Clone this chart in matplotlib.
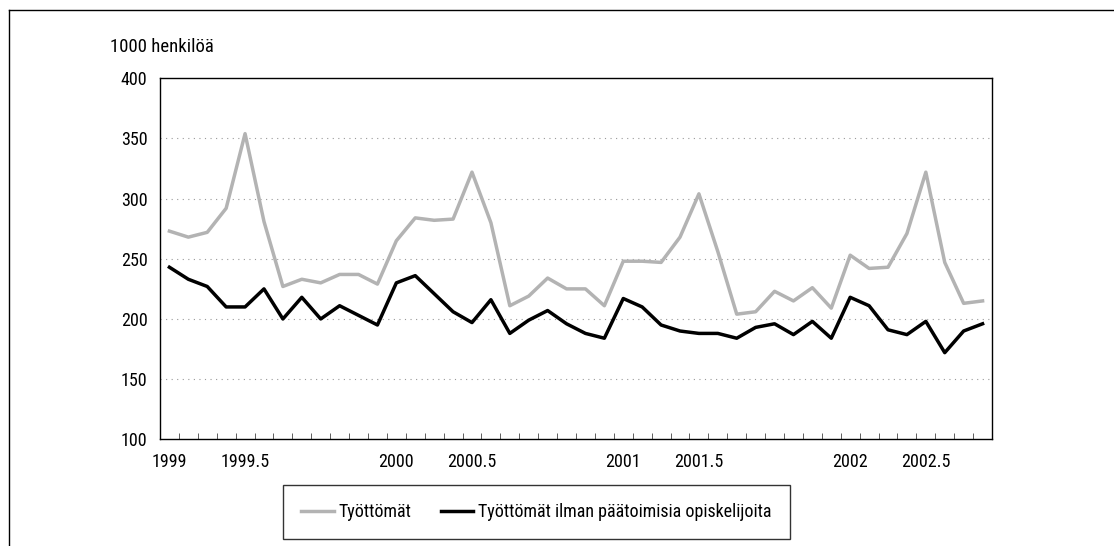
import matplotlib.pyplot as plt
from matplotlib import font_manager
from matplotlib.lines import Line2D
import numpy as np

# kapea fontti, jos sellainen löytyy
fonts = font_manager.fontManager.ttflist
names = {f.name for f in fonts}
family, stretch = "DejaVu Sans", "normal"
for cand in ["Liberation Sans Narrow", "Roboto Condensed", "Open Sans Condensed",
             "Noto Sans Condensed", "Inter Condensed"]:
    if cand in names:
        family = cand
        break
else:
    for f in fonts:
        if f.name in ("DejaVu Sans", "Noto Sans", "Open Sans", "Roboto") and \
                "condensed" in str(f.stretch).lower():
            family, stretch = f.name, "condensed"
            break
plt.rcParams['font.family'] = [family, 'DejaVu Sans']
plt.rcParams['font.stretch'] = stretch

# Kuukausittaiset arvot, 1000 henkilöä
tyottomat = [273, 268, 272, 292, 354, 281, 227, 233, 230, 237, 237, 229,
             265, 284, 282, 283, 322, 280, 211, 219, 234, 225, 225, 211,
             248, 248, 247, 268, 304, 256, 204, 206, 223, 215, 226, 209,
             253, 242, 243, 271, 322, 247, 213, 215]
ilman_opisk = [243, 233, 227, 210, 210, 225, 200, 218, 200, 211, 203, 195,
               230, 236, 221, 206, 197, 216, 188, 199, 207, 196, 188, 184,
               217, 210, 195, 190, 188, 188, 184, 193, 196, 187, 198, 184,
               218, 211, 191, 187, 198, 172, 190, 196]

tick_pos = [0, 4, 12, 16, 24, 28, 36, 40]
tick_labels = ["1999", "1999.5", "2000", "2000.5", "2001", "2001.5", "2002", "2002.5"]

x = np.arange(len(tyottomat))

fig = plt.figure(figsize=(11.14, 5.46), dpi=100)
ax = fig.add_axes([0.1436, 0.1954, 0.7469, 0.6612])

l1, = ax.plot(x, tyottomat, color="#b3b3b3", lw=2.5, label="Työttömät")
l2, = ax.plot(x, ilman_opisk, color="black", lw=2.5,
              label="Työttömät ilman päätoimisia opiskelijoita")

ax.set_xlim(-0.5, len(x) - 0.5)
ax.set_ylim(100, 400)
ax.set_yticks([100, 150, 200, 250, 300, 350, 400])
ax.tick_params(axis="y", length=0, labelsize=13, pad=9)
ax.set_xticks(tick_pos)
ax.set_xticklabels(tick_labels)
ax.set_xticks(np.arange(0.5, len(x) - 1, 1), minor=True)
ax.tick_params(axis="x", which="major", length=0, labelsize=13, pad=10)
ax.tick_params(axis="x", which="minor", direction="in", length=4, color="#444444")

for yv in [150, 200, 250, 300, 350]:
    ax.axhline(yv, color="#999999", lw=0.8, ls=(0, (1, 4)), zorder=0)

for s in ax.spines.values():
    s.set_color("black")
    s.set_linewidth(1.0)

fig.text(110 / 1114, 1 - 47 / 546, "1000 henkilöä", fontsize=13.5,
         ha="left", va="center")

leg = fig.legend(handles=[l1, l2], loc="center", bbox_to_anchor=(536.5 / 1114, 1 - 512 / 546),
                 ncol=2, frameon=True, fancybox=False, edgecolor="black",
                 fontsize=13, handlelength=1.8, handletextpad=0.28,
                 columnspacing=1.6, borderpad=1.0)
leg.get_frame().set_linewidth(1.0)

# ulkokehys
fig.add_artist(Line2D([0.0085, 0.0085], [0, 0.9817], color="black", lw=1,
                      transform=fig.transFigure))
fig.add_artist(Line2D([0.0085, 1.0], [0.9817, 0.9817], color="black", lw=1,
                      transform=fig.transFigure))

fig.savefig("out.png", dpi=100)
